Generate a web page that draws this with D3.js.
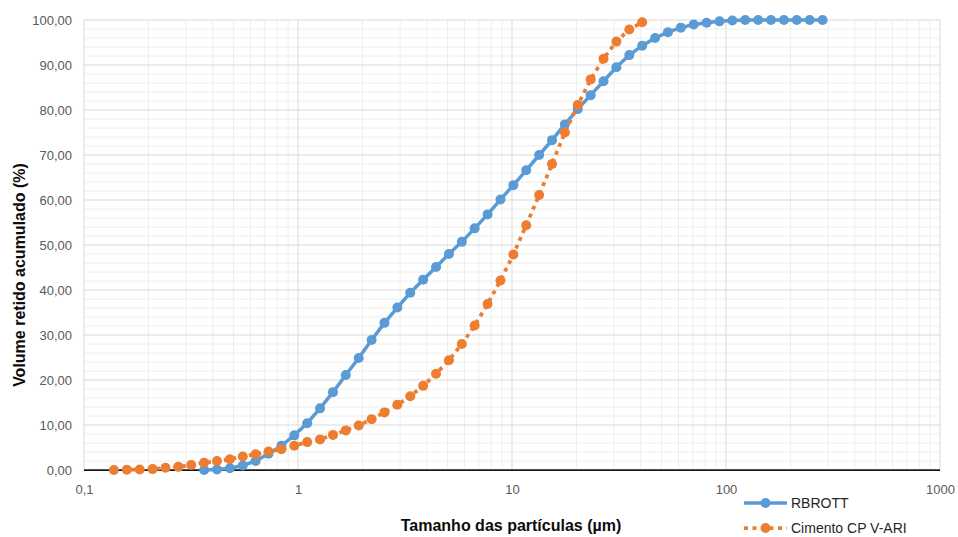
<!DOCTYPE html>
<html>
<head>
<meta charset="utf-8">
<script src="https://cdn.jsdelivr.net/npm/d3@7"></script>
<style>
  html, body { margin: 0; padding: 0; background: #fff; }
  svg { display: block; }
  text { font-family: "Liberation Sans", Arial, sans-serif; }
</style>
</head>
<body>
<svg id="chart" width="958" height="537"></svg>
<script>
// Particle size classes (µm), geometric steps of 2^(1/5)
const sizes = [
  0.138, 0.1585, 0.1821, 0.2092, 0.2403, 0.276, 0.317, 0.3642, 0.4183, 0.4805,
  0.552, 0.634, 0.7284, 0.8367, 0.961, 1.104, 1.268, 1.457, 1.673, 1.922,
  2.208, 2.536, 2.913, 3.347, 3.844, 4.416, 5.072, 5.827, 6.693, 7.689,
  8.832, 10.15, 11.65, 13.39, 15.38, 17.66, 20.29, 23.31, 26.77, 30.75,
  35.33, 40.58, 46.62, 53.55, 61.51, 70.66, 81.17, 93.24, 107.1, 123.0,
  141.3, 162.3, 186.5, 214.2, 246.1, 282.7
];

// RBROTT: cumulative retained volume (%), from size class 0.3642 µm upward
const rbrottSizes = sizes.slice(7, 56);
const rbrottValues = [
  0.0, 0.1, 0.4, 1.0, 2.0, 3.6, 5.4, 7.7, 10.4, 13.7,
  17.3, 21.1, 24.9, 28.9, 32.7, 36.1, 39.4, 42.3, 45.1, 48.0,
  50.7, 53.7, 56.8, 60.1, 63.3, 66.6, 70.0, 73.3, 76.8, 80.2,
  83.3, 86.4, 89.5, 92.2, 94.3, 96.0, 97.3, 98.3, 99.0, 99.4,
  99.7, 99.9, 100.0, 100.0, 100.0, 100.0, 100.0, 100.0, 100.0
];

// Cimento CP V-ARI: cumulative retained volume (%), from size class 0.138 µm upward
const cimentoSizes = sizes.slice(0, 42);
const cimentoValues = [
  0.0, 0.05, 0.1, 0.2, 0.5, 0.7, 1.1, 1.6, 2.0, 2.4,
  3.0, 3.5, 4.1, 4.6, 5.4, 6.2, 6.8, 7.8, 8.8, 9.9,
  11.3, 12.8, 14.5, 16.4, 18.7, 21.4, 24.4, 28.0, 32.1, 36.9,
  42.1, 47.9, 54.4, 61.1, 68.0, 75.0, 81.1, 86.8, 91.4, 95.2,
  97.9, 99.5
];

const seriesNames = ["RBROTT", "Cimento CP V-ARI"];
const xTicks = [0.1, 1, 10, 100, 1000];
const xTickLabels = ["0,1", "1", "10", "100", "1000"];
const yTicks = [0, 10, 20, 30, 40, 50, 60, 70, 80, 90, 100];
const xTitle = "Tamanho das partículas (µm)";
const yTitle = "Volume retido acumulado (%)";

const colors = ["#5B9BD5", "#ED7D31"];

const svg = d3.select("#chart");
const plotLeft = 84, plotRight = 940, plotTop = 20, plotBottom = 470;

const x = d3.scaleLog().domain([0.1, 1000]).range([plotLeft, plotRight]);
const y = d3.scaleLinear().domain([0, 100]).range([plotBottom, plotTop]);

// Gridlines: minor first, then major
const grid = svg.append("g");
const minorX = [];
for (let d = 0.1; d < 1000; d *= 10) {
  for (let k = 2; k <= 9; k++) minorX.push(d * k);
}
grid.selectAll(".mx").data(minorX).enter().append("line")
  .attr("x1", d => x(d)).attr("x2", d => x(d))
  .attr("y1", plotTop).attr("y2", plotBottom)
  .attr("stroke", "#eeeeee").attr("stroke-width", 1);

const minorY = d3.range(2, 100, 2).filter(v => v % 10 !== 0);
grid.selectAll(".my").data(minorY).enter().append("line")
  .attr("x1", plotLeft).attr("x2", plotRight)
  .attr("y1", d => y(d)).attr("y2", d => y(d))
  .attr("stroke", "#eeeeee").attr("stroke-width", 1);

grid.selectAll(".Mx").data(xTicks).enter().append("line")
  .attr("x1", d => x(d)).attr("x2", d => x(d))
  .attr("y1", plotTop).attr("y2", plotBottom)
  .attr("stroke", "#d9d9d9").attr("stroke-width", 1);

grid.selectAll(".My").data(yTicks.slice(1)).enter().append("line")
  .attr("x1", plotLeft).attr("x2", plotRight)
  .attr("y1", d => y(d)).attr("y2", d => y(d))
  .attr("stroke", "#d9d9d9").attr("stroke-width", 1);

// Axes (labels only)
const fmtY = d => d.toFixed(2).replace(".", ",");
const xAxis = svg.append("g").attr("transform", `translate(0,${plotBottom})`)
  .call(d3.axisBottom(x).tickValues(xTicks)
    .tickFormat((d, i) => xTickLabels[i]).tickSize(0).tickPadding(15));
const yAxis = svg.append("g").attr("transform", `translate(${plotLeft},0)`)
  .call(d3.axisLeft(y).tickValues(yTicks).tickFormat(fmtY).tickSize(0).tickPadding(12));
[xAxis, yAxis].forEach(a => {
  a.select(".domain").remove();
  a.selectAll("text").attr("fill", "#595959").style("font-size", "13px")
    .style("font-family", "'Liberation Sans', Arial, sans-serif");
});

// Horizontal axis line at 0
svg.append("line")
  .attr("x1", plotLeft).attr("x2", plotRight)
  .attr("y1", y(0)).attr("y2", y(0))
  .attr("stroke", "#1a1a1a").attr("stroke-width", 1.75);

// Series
const line = d3.line().x(d => x(d[0])).y(d => y(d[1]));
const rbrott = rbrottSizes.map((s, i) => [s, rbrottValues[i]]);
const cimento = cimentoSizes.map((s, i) => [s, cimentoValues[i]]);

function drawSeries(data, color, dashed) {
  const g = svg.append("g");
  g.append("path").datum(data)
    .attr("d", line).attr("fill", "none")
    .attr("stroke", color).attr("stroke-width", dashed ? 3.75 : 3.5)
    .attr("stroke-dasharray", dashed ? "4,4.5" : null)
    .attr("stroke-linejoin", "round");
  g.selectAll("circle").data(data).enter().append("circle")
    .attr("cx", d => x(d[0])).attr("cy", d => y(d[1]))
    .attr("r", 5).attr("fill", color);
}
drawSeries(rbrott, colors[0], false);
drawSeries(cimento, colors[1], true);

// Axis titles
svg.append("text")
  .attr("x", 511).attr("y", 531)
  .attr("text-anchor", "middle")
  .style("font-weight", "bold").style("font-size", "16px").attr("fill", "#0d0d0d")
  .text(xTitle);
svg.append("text")
  .attr("transform", "translate(25,275) rotate(-90)")
  .attr("text-anchor", "middle")
  .style("font-weight", "bold").style("font-size", "16px").attr("fill", "#0d0d0d")
  .text(yTitle);

// Legend
const legend = svg.append("g");
const legendY = [503, 528];
seriesNames.forEach((name, i) => {
  const g = legend.append("g");
  g.append("line")
    .attr("x1", 744).attr("x2", 787)
    .attr("y1", legendY[i]).attr("y2", legendY[i])
    .attr("stroke", colors[i]).attr("stroke-width", i ? 3.75 : 3.5)
    .attr("stroke-dasharray", i ? "4,4.5" : null);
  g.append("circle").attr("cx", 765.5).attr("cy", legendY[i]).attr("r", 5).attr("fill", colors[i]);
  g.append("text")
    .attr("x", 791).attr("y", legendY[i]).attr("dy", "0.35em")
    .style("font-size", "14px").attr("fill", "#262626")
    .text(name);
});
</script>
</body>
</html>
